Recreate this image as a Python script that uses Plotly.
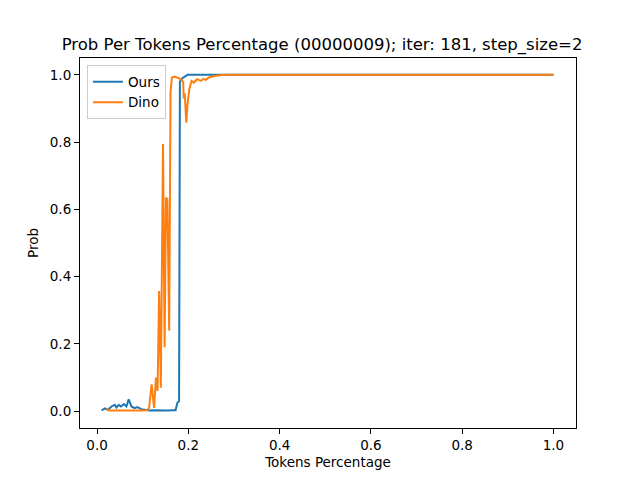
import plotly.graph_objects as go

##################
### data
# Ours
ours_x = [0.0098, 0.017, 0.024, 0.0316, 0.0388, 0.0425, 0.0475, 0.0519, 0.059, 0.0643,
          0.0693, 0.0752, 0.0824, 0.0882, 0.097, 0.105, 0.115, 0.125, 0.135, 0.145,
          0.155, 0.165, 0.172, 0.176, 0.1797, 0.1815, 0.187, 0.198, 0.25, 0.5, 0.75, 1.0]
ours_y = [0.002, 0.008, 0.004, 0.014, 0.019, 0.011, 0.019, 0.014, 0.021, 0.014,
          0.035, 0.014, 0.009, 0.012, 0.006, 0.004, 0.002, 0.003, 0.002, 0.003,
          0.002, 0.003, 0.003, 0.025, 0.03, 0.98, 0.99, 1.0, 1.0, 1.0, 1.0, 1.0]

# Dino
dino_x = [0.0207, 0.026, 0.04, 0.06, 0.08, 0.1, 0.11, 0.114, 0.1195, 0.125,
          0.129, 0.1325, 0.136, 0.1397, 0.1445, 0.148, 0.151, 0.154, 0.158, 0.161,
          0.164, 0.17, 0.177, 0.1835, 0.1885, 0.19, 0.192, 0.1955, 0.198, 0.202,
          0.207, 0.212, 0.219, 0.228, 0.233, 0.238, 0.245, 0.26, 0.28, 0.5, 0.75, 1.0]
dino_y = [0.009, 0.002, 0.002, 0.001, 0.002, 0.002, 0.003, 0.01, 0.08, 0.01,
          0.10, 0.06, 0.357, 0.07, 0.794, 0.19, 0.635, 0.63, 0.24, 0.95,
          0.992, 0.995, 0.99, 0.987, 0.98, 0.93, 0.945, 0.858, 0.91, 0.957,
          0.982, 0.977, 0.987, 0.982, 0.988, 0.985, 0.992, 0.997, 1.0, 1.0, 1.0, 1.0]

tick_vals = [0.0, 0.2, 0.4, 0.6, 0.8, 1.0]


# the plotting
fig = go.Figure()
fig.add_trace(go.Scatter(x=ours_x, y=ours_y, mode='lines', name='Ours',
                         line=dict(color='#1f77b4', width=2)))
fig.add_trace(go.Scatter(x=dino_x, y=dino_y, mode='lines', name='Dino',
                         line=dict(color='#ff7f0e', width=2)))

axis_style = dict(showline=True, mirror=True, linecolor='black', linewidth=1.1,
                  ticks='outside', ticklen=5, tickwidth=1.1, tickcolor='black',
                  showgrid=False, zeroline=False, tickvals=tick_vals, tickformat='.1f',
                  tickfont=dict(size=13.5, color='black'))

fig.update_xaxes(range=[-0.0374, 1.0494],
                 title=dict(text='Tokens Percentage', font=dict(size=13.5, color='black'), standoff=5),
                 **axis_style)
fig.update_yaxes(range=[-0.05, 1.05],
                 title=dict(text='Prob', font=dict(size=13.5, color='black'), standoff=8),
                 **axis_style)

# page body has an 8px margin, so the figure is a bit smaller than the window
fig.update_layout(
    width=624, height=464,
    margin=dict(l=72, r=56, t=50, b=44, autoexpand=False),
    plot_bgcolor='white', paper_bgcolor='white',
    font=dict(family='DejaVu Sans', color='black'),
    title=dict(text='Prob Per Tokens Percentage (00000009); iter: 181, step_size=2',
               x=0.488, xref='paper', xanchor='center',
               y=0.922, yref='container', yanchor='middle',
               font=dict(size=16.5, color='black')),
    legend=dict(x=0.014, y=0.98, xanchor='left', yanchor='top',
                bgcolor='rgba(255,255,255,0.8)', bordercolor='#cccccc', borderwidth=1,
                font=dict(size=13.5, color='black'), tracegroupgap=0, itemwidth=30),
    showlegend=True,
)

fig.write_html("out.html")
